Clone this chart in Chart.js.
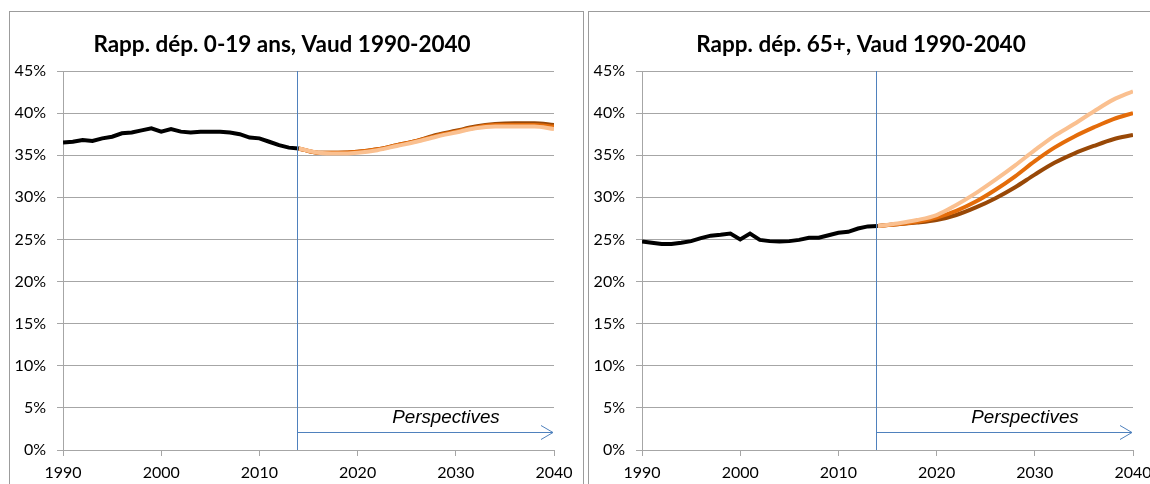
<!DOCTYPE html>
<html lang="fr">
<head>
    <meta charset="UTF-8">
    <meta name="viewport" content="width=device-width, initial-scale=1.0">
    <script src="https://cdn.jsdelivr.net/npm/chart.js"></script>
    <title>Rapports de dépendance, Vaud 1990-2040</title>

    <style>
        body {
            margin: 0;
            background: #fff;
            overflow: hidden;
            width: 1150px;
            height: 484px;
            position: relative;
        }
        .box {
            position: absolute;
            top: 11px;
            width: 575px;
            height: 490px;
            border: 1px solid #9c9c9c;
            box-sizing: border-box;
        }
        #box-jeunes { left: 9px; }
        #box-vieux { left: 588px; }
    </style>
</head>
<body>
    <div class="box" id="box-jeunes"><canvas id="chart-jeunes"></canvas></div>
    <div class="box" id="box-vieux"><canvas id="chart-vieux"></canvas></div>

    <script>
        // Observations 1990-2014 (en %)
        const histYears = [1990, 1991, 1992, 1993, 1994, 1995, 1996, 1997, 1998, 1999,
                           2000, 2001, 2002, 2003, 2004, 2005, 2006, 2007, 2008, 2009,
                           2010, 2011, 2012, 2013, 2014];
        const hist0_19 = [36.5, 36.6, 36.8, 36.7, 37.0, 37.2, 37.6, 37.7, 37.95, 38.2,
                          37.8, 38.1, 37.8, 37.7, 37.8, 37.8, 37.8, 37.7, 37.5, 37.1,
                          37.0, 36.6, 36.2, 35.9, 35.8];
        const hist65 = [24.75, 24.6, 24.45, 24.45, 24.6, 24.8, 25.15, 25.45, 25.55, 25.7,
                        25.0, 25.7, 24.95, 24.8, 24.75, 24.8, 24.95, 25.2, 25.2, 25.5,
                        25.8, 25.9, 26.3, 26.55, 26.6];

        // Perspectives 2014-2040, trois scénarios (en %)
        const projYears = [2014, 2016, 2018, 2020, 2022, 2024, 2026, 2028, 2030, 2032, 2034, 2036, 2038, 2040];
        const proj0_19Fonce = [35.8, 35.3, 35.3, 35.4, 35.7, 36.2, 36.7, 37.4, 37.9, 38.4, 38.7, 38.8, 38.8, 38.6];
        const proj0_19Moyen = [35.8, 35.3, 35.3, 35.4, 35.7, 36.2, 36.7, 37.3, 37.8, 38.3, 38.6, 38.6, 38.6, 38.4];
        const proj0_19Clair = [35.8, 35.3, 35.2, 35.3, 35.6, 36.1, 36.6, 37.2, 37.7, 38.2, 38.4, 38.4, 38.4, 38.1];
        const proj65Fonce = [26.6, 26.8, 27.0, 27.3, 27.9, 28.8, 29.9, 31.2, 32.7, 34.1, 35.2, 36.1, 36.9, 37.4];
        const proj65Moyen = [26.6, 26.8, 27.1, 27.6, 28.4, 29.5, 30.9, 32.5, 34.3, 35.9, 37.2, 38.3, 39.3, 40.0];
        const proj65Clair = [26.6, 26.9, 27.3, 27.9, 29.1, 30.5, 32.1, 33.8, 35.6, 37.3, 38.7, 40.2, 41.6, 42.6];

        const debutPerspectives = 2014;
        const yearTicks = [1990, 2000, 2010, 2020, 2030, 2040];

        function toPoints(xs, ys) {
            return xs.map((x, i) => ({ x: x, y: ys[i] }));
        }

        // ligne verticale + flèche "Perspectives"
        const perspectivesPlugin = {
            id: 'perspectives',
            afterDatasetsDraw(chart) {
                const ctx = chart.ctx;
                const xs = chart.scales.x;
                const ys = chart.scales.y;
                const x0 = Math.round(xs.getPixelForValue(debutPerspectives)) - 1.5;
                const x1 = xs.getPixelForValue(2040);
                const ya = Math.round(ys.getPixelForValue(2.1)) + 0.5;
                ctx.save();
                ctx.strokeStyle = '#4f81bd';
                ctx.lineWidth = 1;
                ctx.beginPath();
                ctx.moveTo(x0, chart.chartArea.top);
                ctx.lineTo(x0, chart.chartArea.bottom);
                ctx.moveTo(x0, ya);
                ctx.lineTo(x1 - 1, ya);
                ctx.moveTo(x1 - 13, ya - 7);
                ctx.lineTo(x1 - 1, ya);
                ctx.lineTo(x1 - 13, ya + 7);
                ctx.stroke();

                ctx.fillStyle = '#000';
                ctx.font = 'italic 18.8px "Liberation Sans", Arial, sans-serif';
                ctx.textAlign = 'center';
                ctx.textBaseline = 'middle';
                ctx.fillText('Perspectives', xs.getPixelForValue(2029), ys.getPixelForValue(3.8));
                ctx.restore();
            }
        };

        function makeChart(canvasId, titre, hist, fonce, moyen, clair) {
            const ctx = document.getElementById(canvasId);
            return new Chart(ctx, {
                type: 'line',
                data: {
                    datasets: [
                        { label: 'Observé', data: toPoints(histYears, hist), borderColor: '#000', borderWidth: 4, tension: 0, order: 0 },
                        { label: 'Scénario clair', data: toPoints(projYears, clair), borderColor: '#fac090', borderWidth: 4, cubicInterpolationMode: 'monotone', order: 1 },
                        { label: 'Scénario moyen', data: toPoints(projYears, moyen), borderColor: '#e46c0a', borderWidth: 4, cubicInterpolationMode: 'monotone', order: 2 },
                        { label: 'Scénario foncé', data: toPoints(projYears, fonce), borderColor: '#984807', borderWidth: 4, cubicInterpolationMode: 'monotone', order: 3 }
                    ]
                },
                options: {
                    responsive: true,
                    maintainAspectRatio: false,
                    animation: false,
                    elements: { point: { radius: 0 } },
                    layout: { padding: { left: 0, right: 29, top: 0, bottom: 0 } },
                    plugins: {
                        legend: { display: false },
                        tooltip: { enabled: false },
                        title: {
                            display: true,
                            text: titre,
                            color: '#000',
                            font: { family: 'Lato, sans-serif', size: 22.5, weight: 'bold' },
                            padding: { top: 19, bottom: 13 }
                        }
                    },
                    scales: {
                        x: {
                            type: 'linear',
                            min: 1990,
                            max: 2040,
                            afterBuildTicks: (scale) => { scale.ticks = yearTicks.map(v => ({ value: v })); },
                            afterFit: (scale) => { scale.height = 50; },
                            ticks: {
                                color: '#000',
                                font: { family: 'Lato, sans-serif', size: 16 },
                                padding: 7,
                                maxRotation: 0,
                                callback: v => String(v)
                            },
                            grid: { drawOnChartArea: false, drawTicks: true, tickLength: 6, color: '#a6a6a6' },
                            border: { display: true, color: '#a6a6a6' }
                        },
                        y: {
                            min: 0,
                            max: 45,
                            afterFit: (scale) => { scale.width = 53; },
                            ticks: {
                                stepSize: 5,
                                color: '#000',
                                font: { family: 'Lato, sans-serif', size: 16 },
                                padding: 11,
                                callback: v => v + '%'
                            },
                            grid: { color: '#a6a6a6', tickLength: 6 },
                            border: { display: true, color: '#a6a6a6' }
                        }
                    }
                },
                plugins: [perspectivesPlugin]
            });
        }

        makeChart('chart-jeunes', 'Rapp. dép. 0-19 ans, Vaud 1990-2040', hist0_19, proj0_19Fonce, proj0_19Moyen, proj0_19Clair);
        makeChart('chart-vieux', 'Rapp. dép. 65+, Vaud 1990-2040', hist65, proj65Fonce, proj65Moyen, proj65Clair);
    </script>
</body>
</html>
